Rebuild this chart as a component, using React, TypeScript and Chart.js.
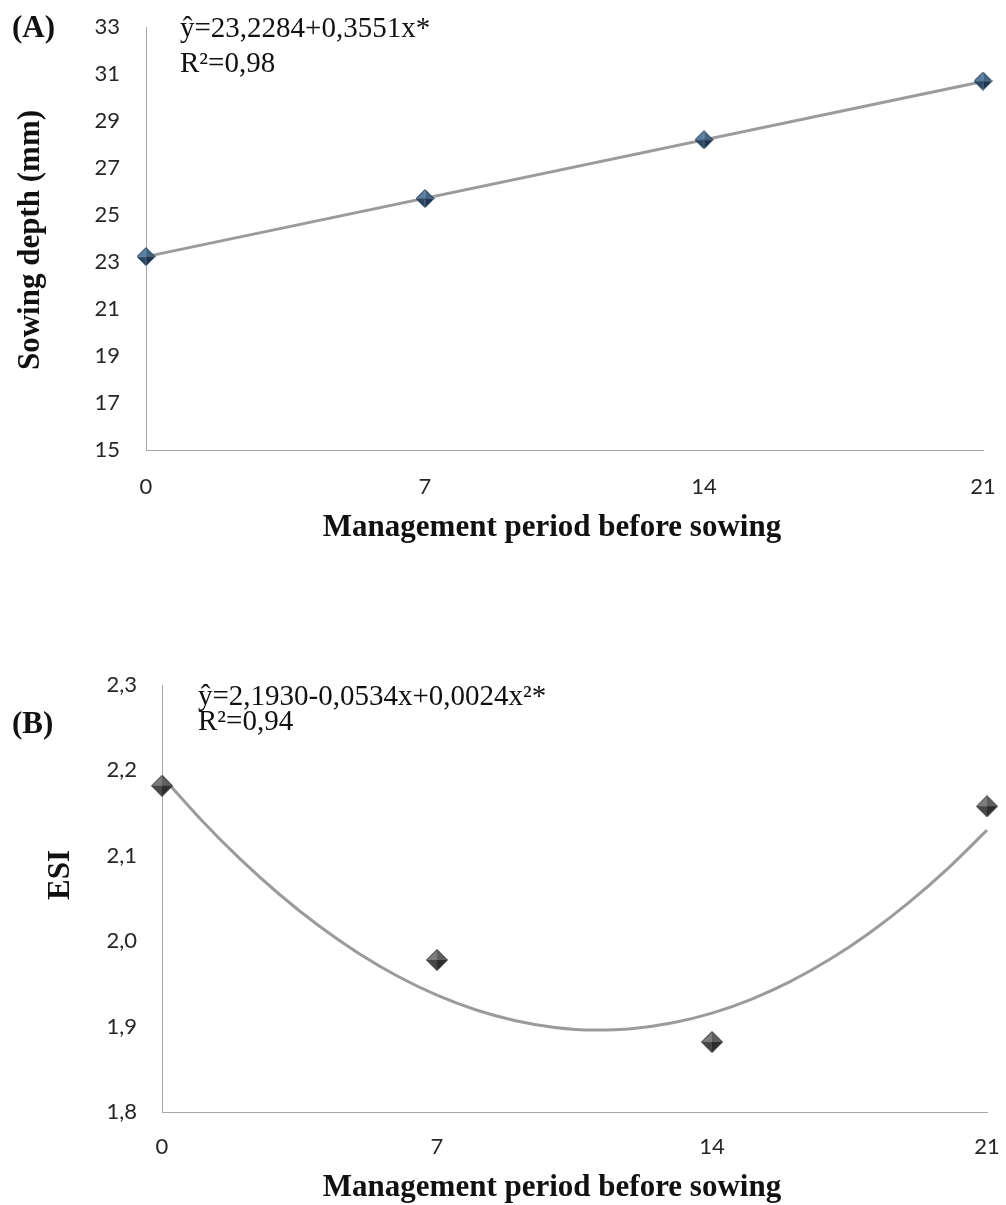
import React, { useEffect, useRef } from 'react';
import { Chart, registerables } from 'chart.js';

Chart.register(...registerables);

// ---------- data ----------
const managementDays = [0, 7, 14, 21];
const xTickValues = [0, 7, 14, 21];

// (A) sowing depth (mm)
const sowingDepth = [23.23, 25.7, 28.2, 30.7];
const sowingDepthTrendX = [0, 21];
const sowingDepthTrend = [23.23, 30.68];
const depthTickValues = [15, 17, 19, 21, 23, 25, 27, 29, 31, 33];
const equationA = ['ŷ=23,2284+0,3551x*', 'R²=0,98'];

// (B) ESI
const esiValues = [2.182, 1.978, 1.882, 2.158];
const esiTrendX = [0, 1, 2, 3, 4, 5, 6, 7, 8, 9, 10, 11, 12, 13, 14, 15, 16, 17, 18, 19, 20, 21];
const esiTrend = [2.193, 2.142, 2.0958, 2.0544, 2.0178, 1.986, 1.959, 1.9368, 1.9194, 1.9068, 1.899, 1.896, 1.8978, 1.9044, 1.9158, 1.932, 1.953, 1.9788, 2.0094, 2.0448, 2.085, 2.13];
const esiTickValues = [1.8, 1.9, 2.0, 2.1, 2.2, 2.3];
const equationB = ['ŷ=2,1930-0,0534x+0,0024x²*', 'R²=0,94'];

const panelLabels = ['(A)', '(B)'];
const xTitle = 'Management period before sowing';
const yTitleA = 'Sowing depth (mm)';
const yTitleB = 'ESI';

// ---------- helpers ----------
const SERIF = '"Liberation Serif", "Times New Roman", serif';
const TICK_FONT = { family: 'Lato, "Open Sans", sans-serif', size: 22 };
const TICK_COLOR = '#262626';
const AXIS_COLOR = '#a6a6a6';
const TREND_COLOR = '#9b9b9d';

function makeDiamond(size: number, faces: string[], edge: string) {
  const c = document.createElement('canvas');
  c.width = size;
  c.height = size;
  const g = c.getContext('2d')!;
  const h = size / 2;
  const pts = [
    [h, 0.5],
    [size - 0.5, h],
    [h, size - 0.5],
    [0.5, h],
  ];
  const tris = [
    [pts[3], pts[0]],
    [pts[0], pts[1]],
    [pts[1], pts[2]],
    [pts[2], pts[3]],
  ];
  tris.forEach((t, i) => {
    g.beginPath();
    g.moveTo(t[0][0], t[0][1]);
    g.lineTo(t[1][0], t[1][1]);
    g.lineTo(h, h);
    g.closePath();
    g.fillStyle = faces[i];
    g.fill();
  });
  g.beginPath();
  pts.forEach((p, i) => (i ? g.lineTo(p[0], p[1]) : g.moveTo(p[0], p[1])));
  g.closePath();
  g.strokeStyle = edge;
  g.lineWidth = 1;
  g.stroke();
  return c;
}

type TextItem = {
  text: string;
  x: number;
  y: number;
  font: string;
  align: CanvasTextAlign;
  baseline: CanvasTextBaseline;
  rotate?: number;
};

function textPlugin(items: TextItem[]) {
  return {
    id: 'annotText',
    afterDraw(chart: any) {
      const ctx = chart.ctx as CanvasRenderingContext2D;
      items.forEach((it) => {
        ctx.save();
        ctx.font = it.font;
        ctx.fillStyle = '#111111';
        ctx.textAlign = it.align;
        ctx.textBaseline = it.baseline;
        ctx.translate(it.x, it.y);
        if (it.rotate) ctx.rotate(it.rotate);
        ctx.fillText(it.text, 0, 0);
        ctx.restore();
      });
    },
  };
}

function zeroPadding(s: any) {
  s.paddingLeft = 0;
  s.paddingRight = 0;
  s.paddingTop = 0;
  s.paddingBottom = 0;
}

function buildConfig(opts: {
  points: number[];
  trendX: number[];
  trendY: number[];
  yTicks: number[];
  yMin: number;
  yMax: number;
  yWidth: number;
  yPad: number;
  xHeight: number;
  xPad: number;
  padding: { left: number; right: number; top: number; bottom: number };
  marker: HTMLCanvasElement;
  format: (v: number) => string;
  texts: TextItem[];
}) {
  return {
    type: 'scatter' as const,
    data: {
      datasets: [
        {
          label: 'observed',
          data: managementDays.map((d, i) => ({ x: d, y: opts.points[i] })),
          pointStyle: opts.marker,
          pointRadius: 10,
          showLine: false,
          clip: false,
        },
        {
          label: 'trend',
          data: opts.trendX.map((d, i) => ({ x: d, y: opts.trendY[i] })),
          showLine: true,
          pointRadius: 0,
          borderColor: TREND_COLOR,
          borderWidth: 3,
          cubicInterpolationMode: 'monotone' as const,
          fill: false,
          clip: false,
        },
      ],
    },
    options: {
      animation: false as const,
      responsive: false,
      devicePixelRatio: 1,
      layout: { padding: opts.padding, autoPadding: false },
      plugins: { legend: { display: false }, tooltip: { enabled: false } },
      scales: {
        x: {
          type: 'linear' as const,
          min: 0,
          max: 21,
          afterBuildTicks: (s: any) => {
            s.ticks = xTickValues.map((v) => ({ value: v }));
          },
          afterFit: (s: any) => {
            s.height = opts.xHeight;
            zeroPadding(s);
          },
          grid: { display: false, drawTicks: false },
          border: { display: true, color: AXIS_COLOR, width: 1 },
          ticks: {
            padding: opts.xPad,
            font: TICK_FONT,
            color: TICK_COLOR,
            maxRotation: 0,
            autoSkip: false,
            callback: (v: any) => String(v),
          },
        },
        y: {
          type: 'linear' as const,
          min: opts.yMin,
          max: opts.yMax,
          afterBuildTicks: (s: any) => {
            s.ticks = opts.yTicks.map((v) => ({ value: v }));
          },
          afterFit: (s: any) => {
            s.width = opts.yWidth;
            zeroPadding(s);
          },
          grid: { display: false, drawTicks: false },
          border: { display: true, color: AXIS_COLOR, width: 1 },
          ticks: {
            padding: opts.yPad,
            font: TICK_FONT,
            color: TICK_COLOR,
            autoSkip: false,
            callback: (v: any) => opts.format(Number(v)),
          },
        },
      },
    },
    plugins: [textPlugin(opts.texts)],
  };
}

function Panel({ top, height, make }: { top: number; height: number; make: () => any }) {
  const ref = useRef<HTMLCanvasElement>(null);
  useEffect(() => {
    if (!ref.current) return;
    const chart = new Chart(ref.current, make());
    return () => chart.destroy();
  }, []);
  return (
    <canvas
      ref={ref}
      width={1006}
      height={height}
      style={{ position: 'absolute', left: 0, top, width: 1006, height }}
    />
  );
}

const TITLE_FONT = `bold 31px ${SERIF}`;
const EQ_FONT = `29px ${SERIF}`;

export default function App() {
  const makeA = () =>
    buildConfig({
      points: sowingDepth,
      trendX: sowingDepthTrendX,
      trendY: sowingDepthTrend,
      yTicks: depthTickValues,
      yMin: 15,
      yMax: 33,
      yWidth: 146,
      yPad: 26,
      xHeight: 150,
      xPad: 24,
      padding: { left: 0, right: 23, top: 27, bottom: 0 },
      marker: makeDiamond(19, ['#5a7fa2', '#416689', '#1c3550', '#2b4967'], '#1a3148'),
      format: (v) => String(v),
      texts: [
        { text: panelLabels[0], x: 12, y: 37, font: TITLE_FONT, align: 'left', baseline: 'alphabetic' },
        { text: equationA[0], x: 180, y: 37, font: EQ_FONT, align: 'left', baseline: 'alphabetic' },
        { text: equationA[1], x: 180, y: 72, font: EQ_FONT, align: 'left', baseline: 'alphabetic' },
        { text: xTitle, x: 552, y: 536, font: TITLE_FONT, align: 'center', baseline: 'alphabetic' },
        { text: yTitleA, x: 31, y: 240, font: TITLE_FONT, align: 'center', baseline: 'middle', rotate: -Math.PI / 2 },
      ],
    });

  const makeB = () =>
    buildConfig({
      points: esiValues,
      trendX: esiTrendX,
      trendY: esiTrend,
      yTicks: esiTickValues,
      yMin: 1.8,
      yMax: 2.3,
      yWidth: 162,
      yPad: 25,
      xHeight: 93,
      xPad: 22,
      padding: { left: 0, right: 19, top: 85, bottom: 0 },
      marker: makeDiamond(22, ['#7c7c7c', '#5f5f5f', '#2e2e2e', '#474747'], '#333333'),
      format: (v) => v.toFixed(1).replace('.', ','),
      texts: [
        { text: panelLabels[1], x: 12, y: 133, font: TITLE_FONT, align: 'left', baseline: 'alphabetic' },
        { text: equationB[0], x: 198, y: 105, font: EQ_FONT, align: 'left', baseline: 'alphabetic' },
        { text: equationB[1], x: 198, y: 130, font: EQ_FONT, align: 'left', baseline: 'alphabetic' },
        { text: xTitle, x: 552, y: 596, font: TITLE_FONT, align: 'center', baseline: 'alphabetic' },
        { text: yTitleB, x: 61, y: 275, font: TITLE_FONT, align: 'center', baseline: 'middle', rotate: -Math.PI / 2 },
      ],
    });

  return (
    <div style={{ position: 'absolute', left: 0, top: 0, width: 1006, height: 1205, background: '#ffffff' }}>
      <Panel top={0} height={600} make={makeA} />
      <Panel top={600} height={605} make={makeB} />
    </div>
  );
}
